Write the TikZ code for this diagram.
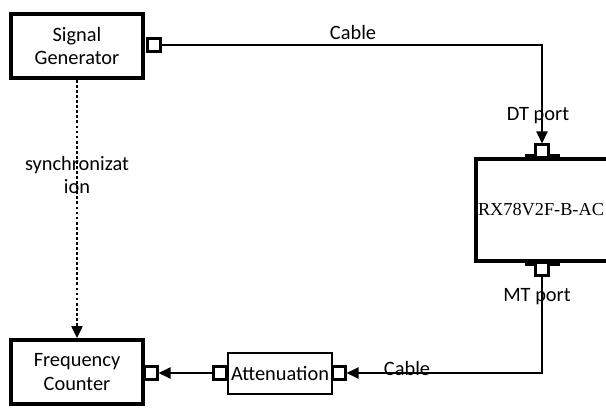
\documentclass[tikz,border=0pt]{standalone}
\usepackage{fontspec}
\setmainfont{Carlito}
\newfontfamily\rxfont{Liberation Serif}
\usetikzlibrary{arrows.meta}
\tikzset{
	unit/.style={draw, line width=2.8pt, inner sep=0pt, align=center},
	port/.style={draw, fill=white, line width=1.8pt, minimum size=9pt, inner sep=0pt},
	wire/.style={line width=1pt, -{Triangle[length=8.5pt,width=8pt]}},
	lbl/.style={font=\fontsize{14.5}{17}\selectfont}
}
\begin{document}
\begin{tikzpicture} [x=0.025cm, y=-0.025cm, lbl]
		%\draw [help lines] (0,0) grid (606,408);
		\useasboundingbox (0,0) rectangle (606,408);
		\node[unit, minimum width=3.3cm, minimum height=1.6cm] (sg) at (77,46) {Signal\\Generator};
		\node[unit, minimum width=3.3cm, minimum height=1.6cm] (fc) at (77,372) {Frequency\\Counter};
		\node[unit, line width=1.4pt, minimum width=2.6cm, minimum height=1.03cm] (att) at (280,373.5) {Attenuation};
		\begin{scope}
			\clip (0,0) rectangle (606,408);
			\node[unit, minimum width=3.35cm, minimum height=2.55cm] (rx) at (543,210) {};
		\end{scope}
		\node[font=\rxfont\fontsize{13}{16}\selectfont, inner sep=0pt] (rxname) at (541,210) {RX78V2F-B-AC};
		% thick bars where the ports sit
		\draw[line width=4pt] (525,157) -- (560,157);
		\draw[line width=4pt] (525,263) -- (560,263);
		% ports
		\node[port] (sgp) at (154,45) {};
		\node[port] (dtp) at (542,151) {};
		\node[port] (mtp) at (542,269) {};
		\node[port] (attr) at (339,373) {};
		\node[port] (attl) at (220,373) {};
		\node[port] (fcp) at (151,373) {};
		% links
		\draw[wire] (sgp.east) -| (dtp.north);
		\draw[wire] (mtp.south) |- (attr.east);
		\draw[wire] (attl.west) -- (fcp.east);
		\draw[wire, dash pattern=on 2pt off 1.6pt] (sg.south) -- (fc.north);
		% labels
		\node (cable1) at (353,32) {Cable};
		\node (dtl) at (538,116) {DT port};
		\node (mtl) at (537,297) {MT port};
		\node (cable2) at (407,368) {Cable};
		\node[align=center] (sync) at (77,175) {synchronizat\\ion};
	\end{tikzpicture}
\end{document}
